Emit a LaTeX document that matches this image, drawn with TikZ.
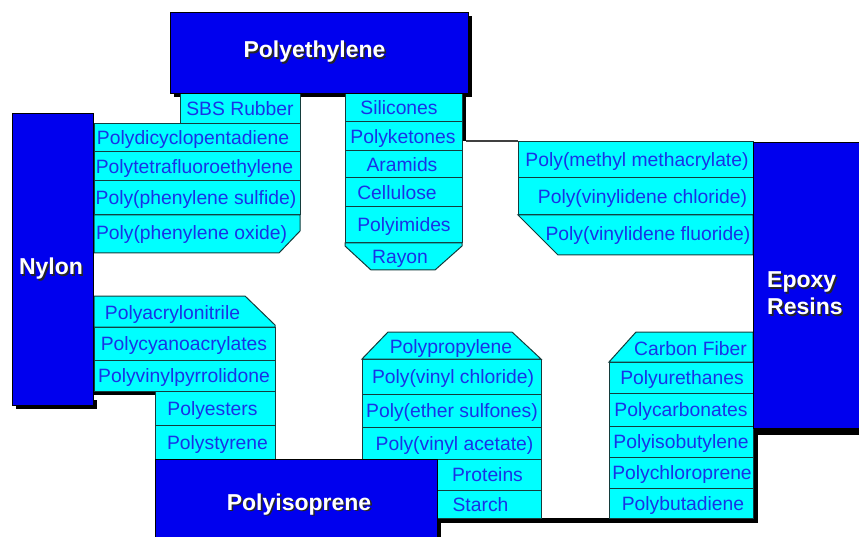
\documentclass[tikz,border=0pt]{standalone}
\usepackage{fontspec}
\setmainfont{Liberation Sans}
\usetikzlibrary{positioning}
\definecolor{headBlue}{RGB}{0,0,238}
\definecolor{cellCyan}{RGB}{0,255,255}
\definecolor{cellInk}{RGB}{25,50,230}
\definecolor{cellEdge}{RGB}{20,60,60}
\newcommand{\shadowtxt}[1]{\makebox[0pt][l]{\kern1.6pt\raisebox{-1.6pt}{\color{black!85}#1}}#1}
\tikzset{
  headBox/.style={
    fill=headBlue,
    draw=black,
    line width=0.8
  },
  shadowBox/.style={
    fill=black,
    draw=none
  },
  cellBox/.style={
    fill=cellCyan,
    draw=cellEdge,
    line width=1
  },
  cellText/.style={
    font=\fontsize{19.3}{21}\selectfont,
    text=cellInk,
    inner sep=0pt,
    anchor=base
  },
  headText/.style={
    font=\fontsize{23}{27}\selectfont\bfseries,
    text=white,
    inner sep=0pt,
    anchor=base
  }
}

\begin{document}
\begin{tikzpicture}[x=1pt, y=-1pt]
  \useasboundingbox (0,0) rectangle (859,537);
  \clip (0,0) rectangle (859,537);
  % shadows
  \fill[shadowBox] (174,16) rectangle (472,97);
  \fill[shadowBox] (16,400) rectangle (97,409);
  \fill[shadowBox] (757,146) rectangle (870,435);
  \fill[shadowBox] (159,463) rectangle (441,545);
  \fill[shadowBox] (462,93) rectangle (466,141);
  \draw[black!75, line width=1.2] (466,141) -- (518,141);
  \fill[shadowBox] (93,391) rectangle (155,395);
  \fill[shadowBox] (437,518) rectangle (758,523);
  \fill[shadowBox] (753,428) rectangle (758,523);
  % plain cells: left, top, right, bottom, text x, name, label
  \foreach \xa/\ya/\xb/\yb/\tx/\nm/\lbl in {
      180/93/300/124/240/sbs/SBS Rubber,
      94/124/300/152/193/pdcpd/Polydicyclopentadiene,
      94/152/300/181/194.5/ptfe/Polytetrafluoroethylene,
      94/181/300/215/196/pps/Poly(phenylene sulfide),
      345/93/462/122/399/silicones/Silicones,
      345/122/462/151/403/ketones/Polyketones,
      345/151/462/178/402/aramids/Aramids,
      345/178/462/207/397/cellulose/Cellulose,
      345/207/462/243/404/imides/Polyimides,
      518/142/753/178/637/pmma/Poly(methyl methacrylate),
      518/178/753/215/642.5/pvdc/Poly(vinylidene chloride),
      94/327/275/360/184/cyano/Polycyanoacrylates,
      94/360/275/391/184/pvp/Polyvinylpyrrolidone,
      155/391/275/425/212.5/esters/Polyesters,
      155/425/275/459/217.5/styrene/Polystyrene,
      362/359/541/394/453/pvc/Poly(vinyl chloride),
      362/394/541/427/452/pes/Poly(ether sulfones),
      362/427/541/459/454.5/pvac/Poly(vinyl acetate),
      437/459/541/490/487.5/proteins/Proteins,
      437/490/541/518/480.5/starch/Starch,
      609/362/753/393/682/urethanes/Polyurethanes,
      609/393/753/426/681/carbonates/Polycarbonates,
      609/426/753/457/681/pib/Polyisobutylene,
      609/457/753/488/682/chloroprene/Polychloroprene,
      609/488/753/518/683/butadiene/Polybutadiene}{
    \filldraw[cellBox] (\xa,\ya) rectangle (\xb,\yb);
    \node[cellText] (\nm) at (\tx,{(\ya+\yb)/2+7}) {\lbl};
  }
  % chamfered cells
  \filldraw[cellBox] (94,215) -- (300,215) -- (300,231) -- (279,253) -- (94,253) -- cycle;
  \node[cellText] (ppo) at (191.5,240) {Poly(phenylene oxide)};
  \filldraw[cellBox] (345,243) -- (462,243) -- (462,246) -- (435,270) -- (371,270) -- (345,246) -- cycle;
  \node[cellText] (rayon) at (400,264) {Rayon};
  \filldraw[cellBox] (518,215) -- (753,215) -- (753,255) -- (558,255) -- cycle;
  \node[cellText] (pvdf) at (648,241) {Poly(vinylidene fluoride)};
  \filldraw[cellBox] (94,296) -- (245,296) -- (275,325) -- (275,327) -- (94,327) -- cycle;
  \node[cellText] (pan) at (172.5,319) {Polyacrylonitrile};
  \filldraw[cellBox] (362,359) -- (388,332) -- (512,332) -- (541,359) -- cycle;
  \node[cellText] (pp) at (451,353) {Polypropylene};
  \filldraw[cellBox] (609,362) -- (636,332) -- (753,332) -- (753,362) -- cycle;
  \node[cellText] (carbon) at (690.5,355) {Carbon Fiber};
  % blue heads
  \filldraw[headBox] (170,12) rectangle (468,93);
  \node[headText] (polyethylene) at (314.5,58) {\shadowtxt{Polyethylene}};
  \filldraw[headBox] (12,113) rectangle (93,405);
  \node[headText] (nylon) at (51,275) {\shadowtxt{Nylon}};
  \filldraw[headBox] (753,142) rectangle (870,428);
  \node[headText, align=left, anchor=west] (epoxy) at (767,294) {\shadowtxt{Epoxy}\\\shadowtxt{Resins}};
  \filldraw[headBox] (155,459) rectangle (437,545);
  \node[headText] (polyisoprene) at (299,510) {\shadowtxt{Polyisoprene}};
\end{tikzpicture}
\end{document}
